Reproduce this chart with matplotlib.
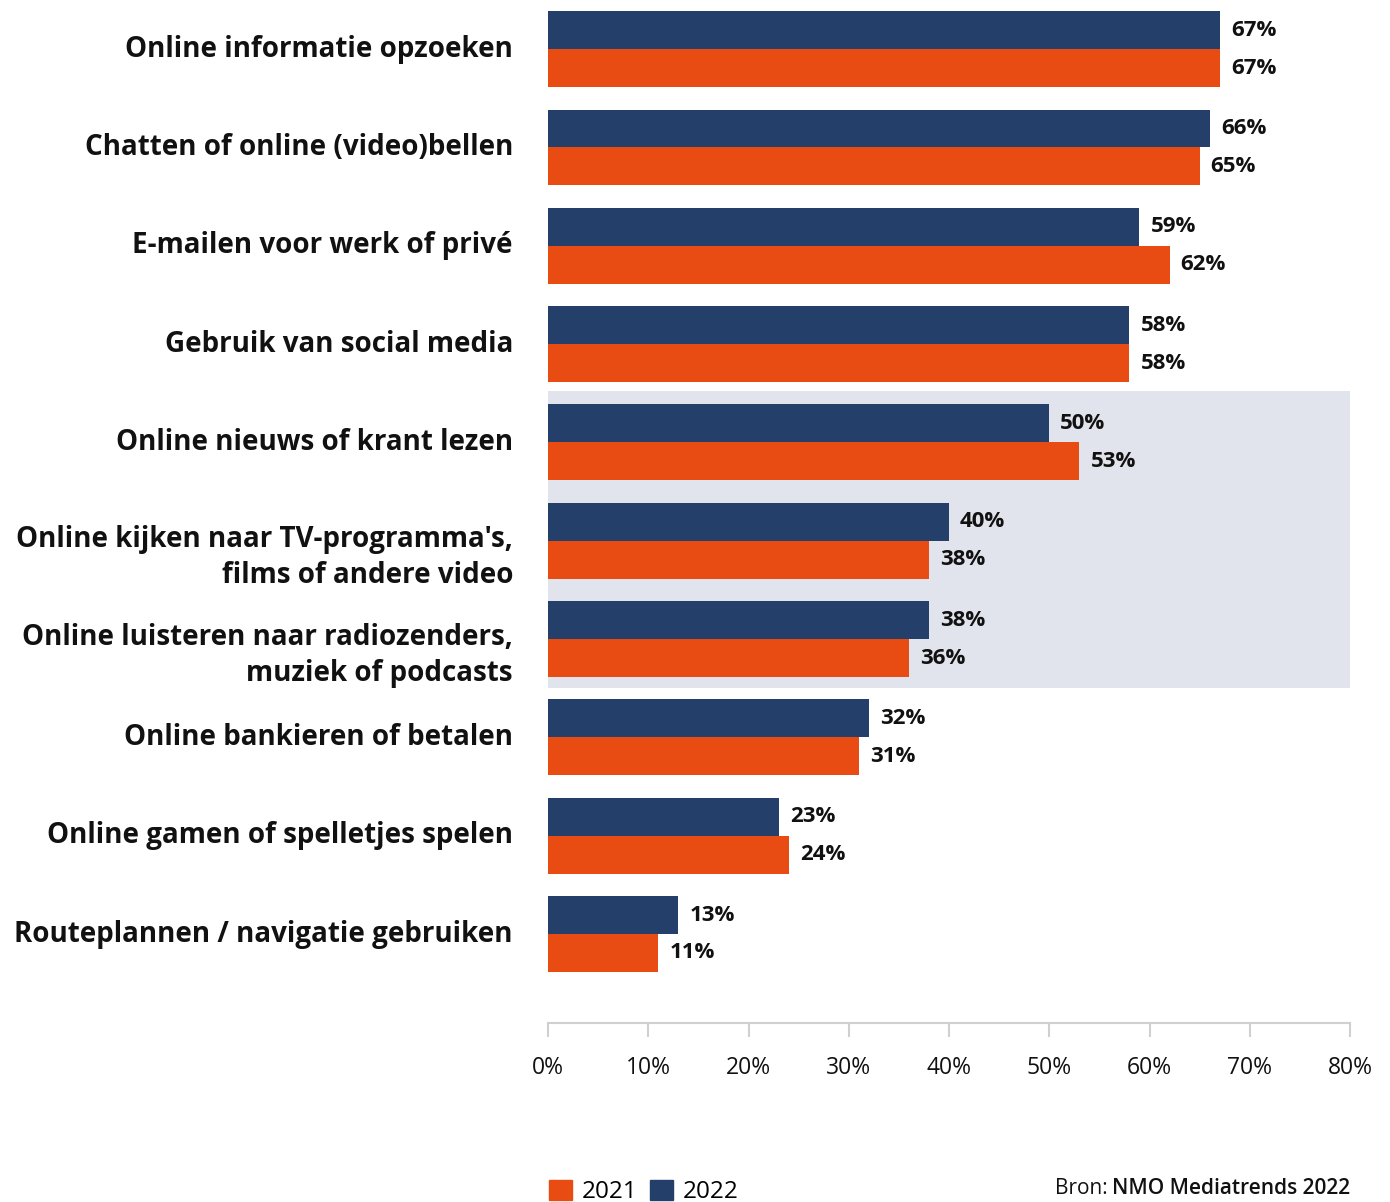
import numpy as np
import matplotlib
matplotlib.use("Agg")
import matplotlib.pyplot as plt
from matplotlib.patches import Patch
from matplotlib.transforms import blended_transform_factory

# activiteiten en percentages per jaar
activiteiten = [
    "Online informatie opzoeken",
    "Chatten of online (video)bellen",
    "E-mailen voor werk of privé",
    "Gebruik van social media",
    "Online nieuws of krant lezen",
    "Online kijken naar TV-programma's,\nfilms of andere video",
    "Online luisteren naar radiozenders,\nmuziek of podcasts",
    "Online bankieren of betalen",
    "Online gamen of spelletjes spelen",
    "Routeplannen / navigatie gebruiken",
]
waarden_2022 = [67, 66, 59, 58, 50, 40, 38, 32, 23, 13]
waarden_2021 = [67, 65, 62, 58, 53, 38, 36, 31, 24, 11]
gemarkeerd = [4, 5, 6]  # audiovisuele activiteiten met achtergrondvlak

kleur_2021 = "#E84C12"
kleur_2022 = "#243F6A"
kleur_vlak = "#E1E4EC"

plt.rcParams['font.family'] = ['Open Sans', 'DejaVu Sans']

fig = plt.figure(figsize=(13.9, 12.02), dpi=100)
ax = fig.add_axes([548 / 1390, 1 - 1023 / 1202, (1350 - 548) / 1390, 1023 / 1202])

y = np.arange(len(activiteiten))
h = 0.386

# grijs vlak achter de gemarkeerde groep
ax.axhspan(min(gemarkeerd) - 0.52, max(gemarkeerd) + 0.5, color=kleur_vlak, zorder=0, lw=0)

b22 = ax.barh(y - h / 2, waarden_2022, height=h, color=kleur_2022, zorder=2)
b21 = ax.barh(y + h / 2, waarden_2021, height=h, color=kleur_2021, zorder=2)

for bars, vals in [(b22, waarden_2022), (b21, waarden_2021)]:
    for bar, v in zip(bars, vals):
        ax.annotate(f"{v}%", (bar.get_width(), bar.get_y() + bar.get_height() / 2),
                    xytext=(8, 0), textcoords="offset points", va="center", ha="left",
                    fontsize=16, fontweight="bold", color="#111111")

# categorie labels rechts uitgelijnd links van de balken
trans = blended_transform_factory(fig.transFigure, ax.transData)
for i, label in enumerate(activiteiten):
    n = label.count("\n")
    ax.text(513 / 1390, i + 0.168 * n, label, transform=trans, ha="right", va="center",
            fontsize=20, fontweight="bold", color="#111111", linespacing=1.3)

ax.set_xlim(0, 80)
ax.set_ylim(9.905, -0.5)
ax.set_yticks([])
ax.set_xticks(np.arange(0, 81, 10))
ax.set_xticklabels([f"{t}%" for t in range(0, 81, 10)], fontsize=16.5, color="#111111")
ax.tick_params(axis="x", length=10, width=1.5, color="#D0D0D0", pad=14)

for s in ["top", "right", "left"]:
    ax.spines[s].set_visible(False)
ax.spines["bottom"].set_color("#D0D0D0")
ax.spines["bottom"].set_linewidth(1.5)

handles = [Patch(color=kleur_2021, label="2021"), Patch(color=kleur_2022, label="2022")]
fig.legend(handles=handles, loc="lower left", bbox_to_anchor=(527 / 1390, -0.02), ncol=2,
           frameon=False, fontsize=17.5, handlelength=0.95, handleheight=0.9,
           handletextpad=0.4, columnspacing=0.5)

# bronvermelding: "Bron:" normaal, rest vet, samen rechts uitgelijnd
bron = fig.text(1350 / 1390, 1 - 1188 / 1202, "NMO Mediatrends 2022", ha="right", va="center",
                fontsize=15, fontweight="semibold", color="#111111")
fig.canvas.draw()
bb = bron.get_window_extent()
fig.text((bb.x0 - 4) / 1390, 1 - 1188 / 1202, "Bron:", ha="right", va="center",
         fontsize=15, color="#111111")

fig.savefig("out.png", dpi=100)
